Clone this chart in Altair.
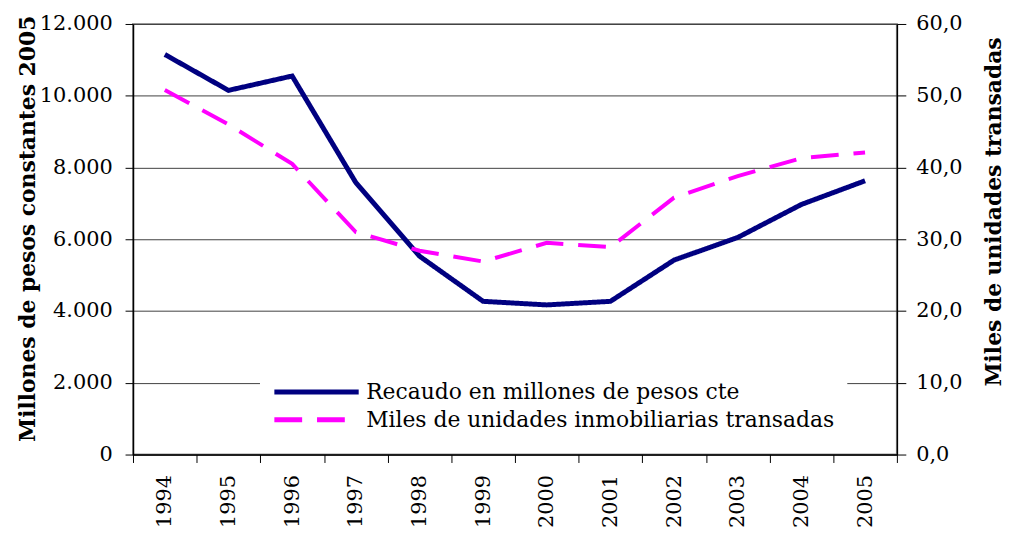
import altair as alt
import pandas as pd

years = ["1994", "1995", "1996", "1997", "1998", "1999", "2000", "2001", "2002", "2003", "2004", "2005"]
recaudo = [11150, 10150, 10550, 7580, 5530, 4270, 4170, 4270, 5420, 6050, 6970, 7630]
miles = [50.8, 46.0, 40.5, 31.0, 28.4, 26.9, 29.5, 28.9, 35.8, 38.8, 41.3, 42.1]
s1 = "Recaudo en millones de pesos cte"
s2 = "Miles de unidades inmobiliarias transadas"
series_names = [s1, s2]
left_ticks = [0, 2000, 4000, 6000, 8000, 10000, 12000]
right_ticks = [0, 10, 20, 30, 40, 50, 60]

df = pd.DataFrame({
    "year": years * 2,
    "series": [s1] * len(years) + [s2] * len(years),
    "value": recaudo + miles,
})

FONT = "DejaVu Serif"

leg = dict(
    title=None,
    orient="none",
    legendX=128,
    legendY=348,
    direction="vertical",
    fillColor="white",
    padding=12,
    symbolType="M-1,0H9",
    symbolSize=289,
    symbolStrokeWidth=5,
    labelOffset=73,
    labelFont=FONT,
    labelFontSize=22,
    labelColor="black",
    rowPadding=6,
    labelLimit=700,
)

color = alt.Color("series:N", scale=alt.Scale(domain=series_names, range=["#000080", "#FF00FF"]),
                  legend=alt.Legend(**leg))
dash = alt.StrokeDash("series:N", scale=alt.Scale(domain=series_names, range=[[1, 0], [28, 15]]),
                      legend=alt.Legend(**leg))

xenc = alt.X("year:N", sort=years, scale=alt.Scale(paddingInner=0, paddingOuter=0),
             axis=alt.Axis(title=None, labelAngle=270, labelFont=FONT, labelFontSize=21,
                           labelColor="black", tickSize=8, tickColor="black", domainColor="black",
                           domainWidth=1.5, labelPadding=12, tickBand="extent", grid=False))

base = alt.Chart(df)

left = base.transform_filter(alt.datum.series == s1).mark_line(strokeWidth=5).encode(
    x=xenc,
    y=alt.Y("value:Q", scale=alt.Scale(domain=[0, 12000], nice=False),
            axis=alt.Axis(title="Millones de pesos constantes 2005", values=left_ticks,
                          labelExpr="replace(format(datum.value, ','), ',', '.')",
                          orient="left", grid=True, gridColor="#404040", gridWidth=1,
                          labelFont=FONT, labelFontSize=21, labelColor="black",
                          tickSize=8, tickColor="black", domainColor="black", domainWidth=1.5,
                          labelPadding=13, titleFont=FONT, titleFontWeight="bold",
                          titleFontSize=22, titleColor="black",
                          titleAngle=270, titleBaseline="middle",
                          titleX=-106, titleY=206)),
    color=color,
    strokeDash=dash,
)

right = base.transform_filter(alt.datum.series == s2).mark_line(strokeWidth=4).encode(
    x=xenc,
    y=alt.Y("value:Q", scale=alt.Scale(domain=[0, 60], nice=False),
            axis=alt.Axis(title="Miles de unidades transadas", values=right_ticks,
                          labelExpr="replace(format(datum.value, '.1f'), '.', ',')",
                          orient="right", grid=False,
                          labelFont=FONT, labelFontSize=21, labelColor="black",
                          tickSize=9, tickColor="black", domainColor="black", domainWidth=1.5,
                          labelPadding=10, titleFont=FONT, titleFontWeight="bold",
                          titleFontSize=22, titleColor="black",
                          titleAngle=270, titleBaseline="middle",
                          titleX=97, titleY=189)),
    color=color,
    strokeDash=dash,
)

chart = alt.layer(left, right).resolve_scale(y="independent").properties(
    width=770,
    height=434,
    autosize=alt.AutoSizeParams(type="none"),
    padding={"left": 126, "top": 14, "right": 111, "bottom": 80},
).configure_view(stroke="#9a9a9a", strokeWidth=2)

chart.save("out.html", embed_options={"renderer": "svg", "actions": False})
